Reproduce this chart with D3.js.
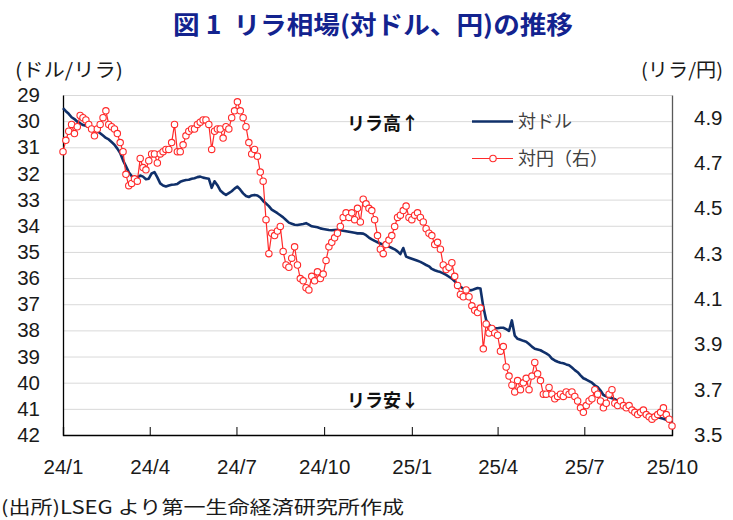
<!DOCTYPE html>
<html><head><meta charset="utf-8">
<script src="https://cdn.jsdelivr.net/npm/d3@7"></script>
<style>
body{margin:0;background:#fff;}
svg{display:block;font-family:"Noto Sans CJK JP","Noto Sans",sans-serif;}
</style>
</head><body>
<svg id="chart" width="733" height="520"></svg>
<script>
// ---- data ----
const startDate = "2024-01-01";
const stepDays = 3;
// ドル/リラ (left axis, inverted)
const usdTry = [
29.50,29.62,29.72,29.85,29.92,30.02,30.08,30.15,30.18,30.22,
30.27,30.30,30.38,30.46,30.55,30.64,30.70,30.80,30.90,31.05,
31.22,31.50,31.72,31.95,32.10,32.24,32.15,32.08,32.12,32.22,
32.20,32.00,31.95,32.15,32.38,32.46,32.50,32.46,32.43,32.42,
32.40,32.32,32.28,32.25,32.24,32.20,32.18,32.14,32.12,32.16,
32.18,32.20,32.55,32.30,32.45,32.65,32.75,32.82,32.75,32.68,
32.58,32.50,32.62,32.76,32.86,32.90,32.84,32.82,32.84,32.92,
33.05,33.15,33.25,33.38,33.45,33.52,33.60,33.68,33.78,33.88,
33.92,33.96,33.97,33.95,33.93,33.90,33.96,34.02,34.04,34.06,
34.10,34.12,34.14,34.16,34.17,34.16,34.15,34.17,34.19,34.21,
34.23,34.25,34.27,34.29,34.29,34.30,34.36,34.45,34.52,34.58,
34.63,34.68,34.72,34.76,34.80,34.85,34.90,34.98,35.08,34.85,
35.18,35.22,35.26,35.30,35.34,35.38,35.44,35.50,35.55,35.65,
35.70,35.74,35.77,35.82,35.88,35.95,36.02,36.12,36.25,36.34,
36.40,36.46,36.47,36.46,36.42,36.38,36.40,37.10,37.60,37.78,
37.88,37.92,37.92,37.90,37.90,37.95,38.02,37.62,38.20,38.32,
38.36,38.40,38.43,38.52,38.62,38.70,38.73,38.76,38.82,38.88,
38.95,39.08,39.15,39.20,39.24,39.26,39.30,39.33,39.42,39.52,
39.60,39.72,39.83,39.88,39.94,40.00,40.10,40.17,40.30,40.47,
40.52,40.56,40.59,40.63,40.70,40.78,40.85,40.91,40.97,41.03,
41.07,41.10,41.14,41.17,41.21,41.25,41.28,41.30,41.32,41.35,
41.38,41.42,41.47,41.52
];
// リラ/円 (right axis)
const tryJpy = [
4.75,4.80,4.84,4.87,4.83,4.86,4.91,4.90,4.89,4.87,
4.85,4.82,4.85,4.87,4.90,4.93,4.87,4.86,4.85,4.83,
4.79,4.75,4.65,4.60,4.61,4.63,4.62,4.72,4.68,4.67,
4.71,4.74,4.74,4.70,4.74,4.75,4.76,4.76,4.79,4.87,
4.75,4.75,4.78,4.82,4.84,4.85,4.85,4.87,4.88,4.89,
4.89,4.87,4.76,4.84,4.85,4.85,4.81,4.86,4.85,4.90,
4.93,4.97,4.93,4.90,4.86,4.79,4.74,4.76,4.73,4.66,
4.62,4.45,4.30,4.39,4.38,4.40,4.42,4.31,4.25,4.24,
4.28,4.33,4.25,4.19,4.18,4.15,4.14,4.20,4.18,4.22,
4.19,4.21,4.27,4.33,4.35,4.37,4.39,4.42,4.46,4.48,
4.46,4.48,4.45,4.50,4.44,4.54,4.52,4.50,4.49,4.45,
4.38,4.32,4.30,4.34,4.36,4.38,4.42,4.46,4.47,4.49,
4.51,4.46,4.45,4.47,4.48,4.46,4.44,4.41,4.39,4.38,
4.34,4.35,4.32,4.25,4.23,4.24,4.26,4.20,4.16,4.12,
4.11,4.14,4.11,4.07,4.05,4.04,4.06,3.88,3.99,3.95,
3.97,3.95,3.94,3.87,3.89,3.80,3.76,3.72,3.69,3.74,
3.70,3.73,3.75,3.70,3.76,3.82,3.77,3.74,3.68,3.68,
3.71,3.68,3.66,3.67,3.68,3.67,3.69,3.68,3.69,3.67,
3.65,3.62,3.60,3.63,3.65,3.66,3.70,3.68,3.65,3.62,
3.64,3.68,3.70,3.64,3.63,3.65,3.63,3.62,3.63,3.61,
3.60,3.59,3.60,3.61,3.59,3.58,3.57,3.58,3.59,3.60,
3.62,3.59,3.57,3.54
];
const xTickDates = ["2024-01-01","2024-04-01","2024-07-01","2024-10-01","2025-01-01","2025-04-01","2025-07-01","2025-10-01"];
const xTickLabels = ["24/1","24/4","24/7","24/10","25/1","25/4","25/7","25/10"];
const leftTicks = [29,30,31,32,33,34,35,36,37,38,39,40,41,42];
const rightTicks = [3.5,3.7,3.9,4.1,4.3,4.5,4.7,4.9];
const seriesNames = ["対ドル","対円（右）"];

// ---- layout ----
const W = 733, H = 520;
const plot = {l: 63, r: 672, t: 95, b: 435};
const svg = d3.select("#chart");
const parse = d3.utcParse("%Y-%m-%d");
const start = parse(startDate);
const dates = usdTry.map((_, i) => d3.utcDay.offset(start, i * stepDays));

const x = d3.scaleUtc().domain([parse(xTickDates[0]), parse(xTickDates[xTickDates.length - 1])]).range([plot.l, plot.r]);
const yL = d3.scaleLinear().domain([29, 42]).range([plot.t, plot.b]);
const yR = d3.scaleLinear().domain([3.5, 5.0]).range([plot.b, plot.t]);

// gridlines
svg.append("g").selectAll("line").data(leftTicks.slice(0, -1)).join("line")
  .attr("x1", plot.l).attr("x2", plot.r)
  .attr("y1", d => yL(d) + 0.5).attr("y2", d => yL(d) + 0.5)
  .attr("stroke", "#d9d9d9").attr("stroke-width", 1);

// left axis
const gL = svg.append("g").attr("transform", `translate(${plot.l},0)`)
  .call(d3.axisLeft(yL).tickValues(leftTicks).tickSize(0).tickPadding(23).tickFormat(d3.format("d")));
gL.select(".domain").attr("stroke", "#000").attr("stroke-width", 1.3);
gL.selectAll("text").attr("font-size", 20.5).attr("fill", "#1a1a1a");

// right axis
const gR = svg.append("g").attr("transform", `translate(${plot.r},0)`)
  .call(d3.axisRight(yR).tickValues(rightTicks).tickSize(0).tickPadding(22).tickFormat(d3.format(".1f")));
gR.select(".domain").attr("stroke", "#595959").attr("stroke-width", 1.3);
gR.selectAll("text").attr("font-size", 20.5).attr("fill", "#1a1a1a");

// bottom axis
const gB = svg.append("g").attr("transform", `translate(0,${plot.b})`)
  .call(d3.axisBottom(x).tickValues(xTickDates.map(parse)).tickSize(-8).tickPadding(24)
    .tickFormat((d, i) => xTickLabels[i]));
gB.select(".domain").attr("stroke", "#000").attr("stroke-width", 1.3);
gB.selectAll(".tick line").attr("stroke", "#000");
gB.selectAll("text").attr("font-size", 20.5).attr("fill", "#1a1a1a");

// series: USD line
const lineL = d3.line().x((d, i) => x(dates[i])).y(d => yL(d));
svg.append("path").datum(usdTry).attr("d", lineL)
  .attr("fill", "none").attr("stroke", "#10306a").attr("stroke-width", 2.6).attr("stroke-linejoin", "round");

// series: JPY line with markers
const lineR = d3.line().x((d, i) => x(dates[i])).y(d => yR(d));
svg.append("path").datum(tryJpy).attr("d", lineR)
  .attr("fill", "none").attr("stroke", "#ff2a2a").attr("stroke-width", 1.2);
svg.append("g").selectAll("circle").data(tryJpy).join("circle")
  .attr("cx", (d, i) => x(dates[i])).attr("cy", d => yR(d)).attr("r", 3.2)
  .attr("fill", "#fff").attr("stroke", "#ff2a2a").attr("stroke-width", 1.1);

// title
svg.append("text").attr("x", 373).attr("y", 34).attr("text-anchor", "middle")
  .attr("font-size", 25).attr("font-weight", "bold").attr("fill", "#13238f")
  .attr("textLength", 400).attr("lengthAdjust", "spacingAndGlyphs")
  .text("図\u00a01\u00a0\u00a0リラ相場(対ドル、円)の推移");

// unit labels
svg.append("text").attr("x", 15).attr("y", 77).attr("font-size", 19).attr("fill", "#1a1a1a")
  .attr("textLength", 108).attr("lengthAdjust", "spacingAndGlyphs").text("(ドル/リラ)");
svg.append("text").attr("x", 641).attr("y", 77).attr("font-size", 19).attr("fill", "#1a1a1a")
  .attr("textLength", 82).attr("lengthAdjust", "spacingAndGlyphs").text("(リラ/円)");

// annotations
svg.append("text").attr("x", 347).attr("y", 130).attr("font-size", 18).attr("font-weight", "bold")
  .attr("fill", "#111").text("リラ高↑");
svg.append("text").attr("x", 347).attr("y", 407).attr("font-size", 18).attr("font-weight", "bold")
  .attr("fill", "#111").text("リラ安↓");

// legend
const lg = svg.append("g");
lg.append("line").attr("x1", 472).attr("x2", 513).attr("y1", 121.5).attr("y2", 121.5)
  .attr("stroke", "#10306a").attr("stroke-width", 2.6);
lg.append("text").attr("x", 518).attr("y", 128).attr("font-size", 18).attr("fill", "#404040").text(seriesNames[0]);
lg.append("line").attr("x1", 472).attr("x2", 513).attr("y1", 158.5).attr("y2", 158.5)
  .attr("stroke", "#ff2a2a").attr("stroke-width", 1.2);
lg.append("circle").attr("cx", 493).attr("cy", 158.5).attr("r", 3.2)
  .attr("fill", "#fff").attr("stroke", "#ff2a2a").attr("stroke-width", 1.1);
lg.append("text").attr("x", 518).attr("y", 165).attr("font-size", 18).attr("fill", "#404040").text(seriesNames[1]);

// source
svg.append("text").attr("x", 1).attr("y", 514).attr("font-size", 18).attr("fill", "#1a1a1a")
  .attr("textLength", 403).attr("lengthAdjust", "spacingAndGlyphs")
  .text("(出所)LSEG より第一生命経済研究所作成");
</script>
</body></html>
